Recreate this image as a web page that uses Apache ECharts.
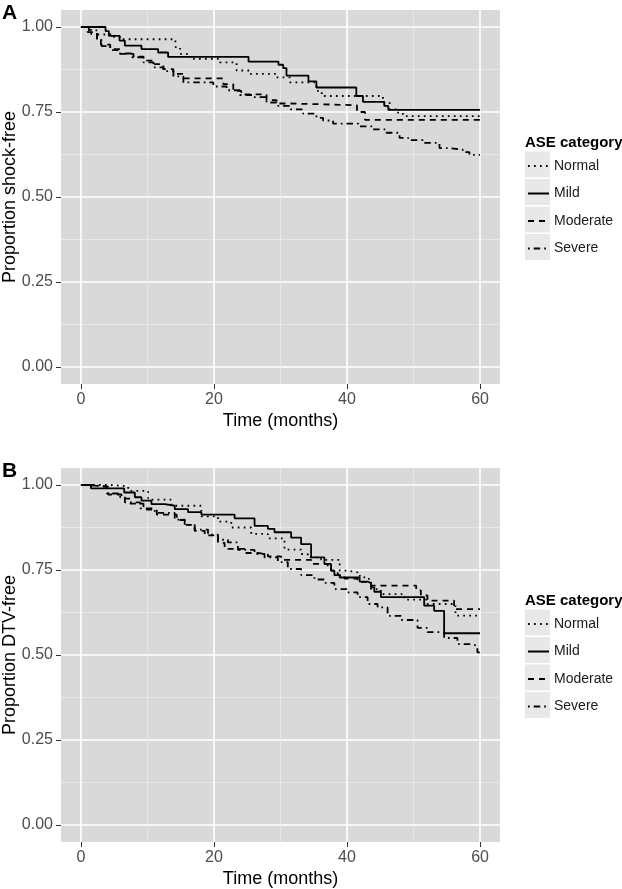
<!DOCTYPE html>
<html>
<head>
<meta charset="utf-8">
<script src="https://cdn.jsdelivr.net/npm/echarts@6/dist/echarts.min.js"></script>
<style>
  html, body { margin: 0; padding: 0; background: #fff; }
  #chart { width: 622px; height: 889px; }
</style>
</head>
<body>
<div id="chart"></div>
<script>
// ASE groups and axis ticks
const groups = ['Normal', 'Mild', 'Moderate', 'Severe'];
const majorX = [0, 20, 40, 60];
const minorX = [10, 30, 50];
const majorY = [0, 0.25, 0.5, 0.75, 1];
const minorY = [0.125, 0.375, 0.625, 0.875];

// panel A: shock-free, [months, proportion]
const shockNormal = [[0,1],[1.5,0.99],[2.5,0.978],[4.8,0.971],[6.2,0.964],[14.2,0.941],[14.9,0.921],[16.4,0.906],[20.9,0.896],[23.4,0.872],[25.4,0.862],[29.4,0.852],[31.4,0.837],[35.4,0.812],[36.2,0.797],[45.4,0.778],[46.4,0.758],[47.4,0.748],[48.4,0.738],[60,0.738]];
const shockMild = [[0,1],[3.7,0.988],[4.2,0.974],[5.8,0.96],[6.6,0.945],[9.1,0.935],[11.6,0.925],[13.1,0.912],[25.2,0.898],[29.7,0.889],[30.4,0.879],[30.9,0.857],[34.2,0.84],[35.4,0.822],[41.4,0.797],[42.4,0.78],[45.6,0.768],[46.2,0.756],[60,0.756]];
const shockModerate = [[0,1],[1,0.985],[2.4,0.96],[3,0.948],[4.4,0.935],[5.9,0.921],[7.9,0.913],[9.4,0.901],[10.9,0.891],[12.4,0.876],[13.9,0.862],[15.4,0.849],[21.4,0.832],[22.9,0.812],[24.1,0.802],[27.9,0.785],[29.4,0.775],[31.4,0.77],[41.5,0.75],[42.7,0.727],[60,0.727]];
const shockSevere = [[0,1],[1.2,0.98],[2.4,0.962],[3.1,0.944],[4.4,0.932],[5.6,0.922],[7.7,0.911],[9.4,0.896],[10.9,0.881],[12.4,0.87],[13.9,0.855],[15.4,0.837],[19.9,0.825],[21.9,0.814],[23.9,0.8],[25.9,0.794],[27.9,0.778],[29.4,0.768],[31.4,0.758],[33.4,0.745],[35.4,0.733],[36.4,0.725],[37.9,0.716],[41.7,0.708],[43.9,0.699],[45.9,0.689],[47.9,0.674],[49.2,0.667],[51.4,0.659],[53.9,0.644],[55.4,0.639],[57.4,0.632],[58.4,0.624],[60,0.624]];

// panel B: DTV-free
const dtvNormal = [[0,1],[4.5,0.996],[7.1,0.983],[10.1,0.957],[13.6,0.939],[18.1,0.908],[20.6,0.892],[22.6,0.875],[25.6,0.856],[28.1,0.843],[30.6,0.81],[33.1,0.797],[34.1,0.787],[36.1,0.78],[38.9,0.748],[40.1,0.743],[41.6,0.733],[42.6,0.724],[43.6,0.694],[45.1,0.679],[48.6,0.663],[52.1,0.65],[56.3,0.616],[60,0.616]];
const dtvMild = [[0,1],[1.5,0.99],[6.5,0.978],[8.1,0.964],[9.1,0.954],[10.6,0.944],[12.6,0.939],[14.1,0.929],[16.1,0.92],[18.1,0.913],[23.1,0.902],[26.1,0.88],[28.1,0.871],[29.1,0.861],[31.6,0.845],[33.1,0.826],[34.6,0.787],[36.6,0.768],[37.6,0.748],[38.1,0.735],[38.9,0.728],[41.9,0.716],[43.1,0.711],[43.6,0.699],[44.1,0.686],[45.1,0.67],[51.6,0.645],[53.1,0.63],[54.6,0.564],[60,0.564]];
const dtvModerate = [[0,1],[1,0.995],[4.1,0.972],[6.1,0.96],[7.4,0.945],[9.4,0.928],[11.4,0.913],[14.4,0.897],[15.6,0.883],[17.1,0.865],[18.6,0.852],[20.6,0.83],[21.6,0.812],[24.6,0.8],[26.6,0.796],[28.1,0.79],[30.1,0.78],[34.6,0.768],[37.1,0.76],[37.6,0.748],[38.6,0.735],[39.6,0.725],[41.6,0.715],[43.1,0.71],[43.6,0.704],[50.4,0.69],[51.1,0.675],[52.1,0.66],[56.1,0.635],[60,0.635]];
const dtvSevere = [[0,1],[1.5,0.995],[3.9,0.975],[5.9,0.964],[6.6,0.949],[8.9,0.931],[11.1,0.918],[14.1,0.898],[15.6,0.883],[17.1,0.869],[19.1,0.854],[20.6,0.839],[22.1,0.831],[23.6,0.809],[26.1,0.797],[27.6,0.787],[29.6,0.773],[31.1,0.753],[33.1,0.735],[35.1,0.722],[36.6,0.712],[38.1,0.694],[40.1,0.684],[41.6,0.67],[43.1,0.65],[44.6,0.64],[46.1,0.615],[48.1,0.603],[50.6,0.58],[52.1,0.567],[54.6,0.55],[56.6,0.532],[58.6,0.527],[59.6,0.508],[60,0.5]];

const dashes = {
  Normal: [1.7, 4.3],
  Mild: 'solid',
  Moderate: [6, 5],
  Severe: [1.7, 4, 6.5, 4]
};

const panels = [
  { label: 'A', yName: 'Proportion shock-free', top: 10, curves: [shockNormal, shockMild, shockModerate, shockSevere] },
  { label: 'B', yName: 'Proportion DTV-free', top: 468, curves: [dtvNormal, dtvMild, dtvModerate, dtvSevere] }
];

const gridLeft = 61, gridWidth = 439, gridHeight = 374;
const font = 'Liberation Sans, Arial, Helvetica, sans-serif';

const grid = [], xAxis = [], yAxis = [], series = [], legend = [], graphic = [];

panels.forEach((p, i) => {
  grid.push({
    left: gridLeft, top: p.top, width: gridWidth, height: gridHeight,
    outerBoundsMode: 'none', containLabel: false,
    show: true, backgroundColor: '#d9d9d9', borderWidth: 0
  });
  // visible axes with major grid
  xAxis.push({
    type: 'value', gridIndex: i, min: -3, max: 63, position: 'bottom',
    name: 'Time (months)', nameLocation: 'middle', nameGap: 28, nameMoveOverlap: false,
    nameTextStyle: { fontSize: 18, color: '#000', fontFamily: font },
    axisLine: { show: false, onZero: false },
    axisTick: { show: true, length: 5, customValues: majorX, lineStyle: { color: '#333', width: 1 } },
    axisLabel: { customValues: majorX, margin: 8, fontSize: 16, color: '#4d4d4d', fontFamily: font },
    splitLine: { show: true, lineStyle: { color: '#fff', width: 1.6 } }
  });
  // hidden axes for minor grid
  xAxis.push({
    type: 'value', gridIndex: i, min: -3, max: 63, position: 'bottom',
    axisLine: { show: false, onZero: false },
    axisTick: { show: false, customValues: minorX },
    axisLabel: { show: false, customValues: minorX },
    splitLine: { show: true, lineStyle: { color: '#ececec', width: 0.8 } }
  });
  yAxis.push({
    type: 'value', gridIndex: i, min: -0.05, max: 1.05, position: 'left',
    name: p.yName, nameLocation: 'middle', nameGap: 42, nameMoveOverlap: false,
    nameTextStyle: { fontSize: 18, color: '#000', fontFamily: font },
    axisLine: { show: false, onZero: false },
    axisTick: { show: true, length: 5, customValues: majorY, lineStyle: { color: '#333', width: 1 } },
    axisLabel: { customValues: majorY, margin: 8, fontSize: 16, color: '#4d4d4d', fontFamily: font,
      formatter: v => v.toFixed(2) },
    splitLine: { show: true, lineStyle: { color: '#fff', width: 1.6 } }
  });
  yAxis.push({
    type: 'value', gridIndex: i, min: -0.05, max: 1.05, position: 'left',
    axisLine: { show: false, onZero: false },
    axisTick: { show: false, customValues: minorY },
    axisLabel: { show: false, customValues: minorY },
    splitLine: { show: true, lineStyle: { color: '#ececec', width: 0.8 } }
  });

  groups.forEach((g, k) => {
    series.push({
      type: 'line', name: g, xAxisIndex: i * 2, yAxisIndex: i * 2,
      data: p.curves[k], step: 'end', symbol: 'none', z: 5,
      lineStyle: { color: '#000', width: 1.8, type: dashes[g] },
      itemStyle: { color: '#000' }
    });
  });

  // legend: key boxes, title, entries
  const legTop = p.top + 146.5;
  groups.forEach((g, k) => {
    graphic.push({
      type: 'rect', left: 525, top: legTop + k * 27.5 - 5, z: 0,
      shape: { width: 25, height: 26 }, style: { fill: '#e8e8e8' }
    });
  });
  graphic.push({
    type: 'text', left: 525, top: p.top + 125,
    style: { text: 'ASE category', font: 'bold 15px ' + font, fill: '#000' }
  });
  graphic.push({
    type: 'text', left: 2, top: p.top - 7,
    style: { text: p.label, font: 'bold 21px ' + font, fill: '#000' }
  });
  legend.push({
    orient: 'vertical', left: 527, top: legTop + 1.5, padding: 0,
    itemWidth: 21, itemHeight: 16, itemGap: 11.5,
    data: groups, selectedMode: false,
    itemStyle: { opacity: 0 },
    textStyle: { fontSize: 14, lineHeight: 16, color: '#1a1a1a', fontFamily: font }
  });
});

const chart = echarts.init(document.getElementById('chart'));
chart.setOption({
  animation: false,
  backgroundColor: '#fff',
  grid, xAxis, yAxis, series, legend, graphic
});
</script>
</body>
</html>
